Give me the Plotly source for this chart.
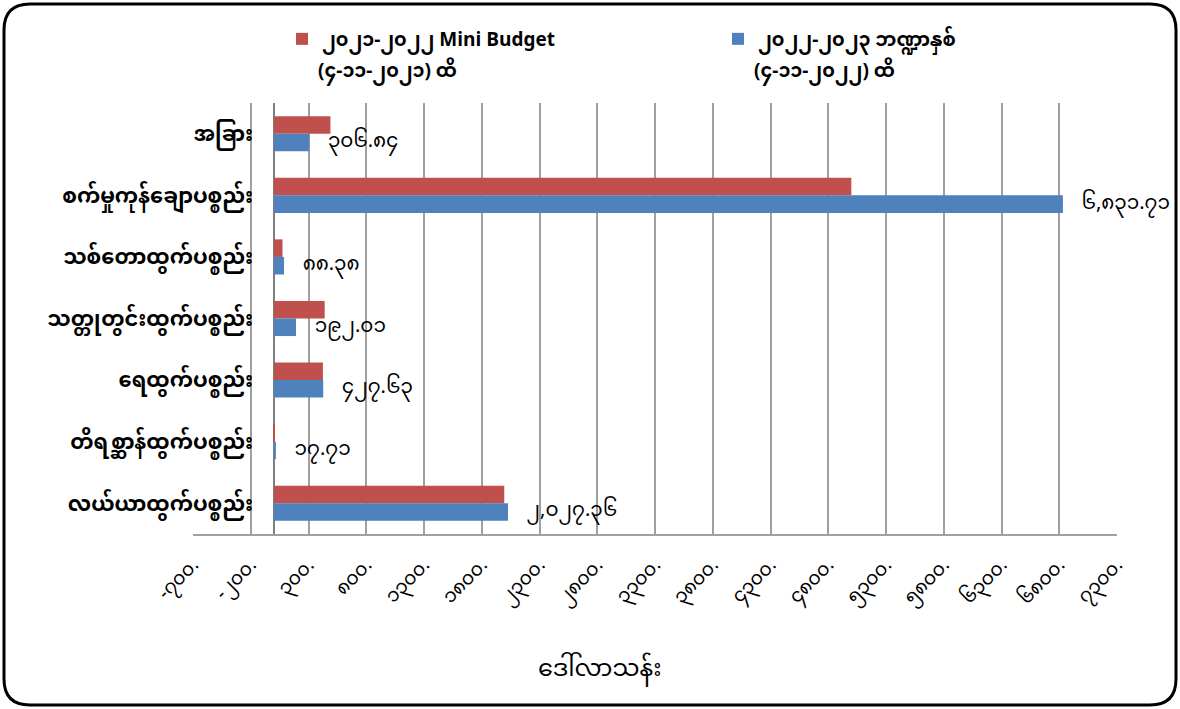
import plotly.graph_objects as go

categories = ["အခြား", "စက်မှုကုန်ချောပစ္စည်း", "သစ်တောထွက်ပစ္စည်း",
              "သတ္တုတွင်းထွက်ပစ္စည်း", "ရေထွက်ပစ္စည်း",
              "တိရစ္ဆာန်ထွက်ပစ္စည်း", "လယ်ယာထွက်ပစ္စည်း"]
mini_budget = [490, 5000, 75, 440, 425, 2, 1995]
fy_2022 = [306.84, 6831.71, 88.38, 192.01, 427.63, 17.71, 2027.36]
series_names = ["၂၀၂၁-၂၀၂၂ Mini Budget", "၂၀၂၂-၂၀၂၃ ဘဏ္ဍာနှစ်"]
series_dates = ["(၄-၁၁-၂၀၂၁) ထိ", "(၄-၁၁-၂၀၂၂) ထိ"]
tick_values = [-700, -200, 300, 800, 1300, 1800, 2300, 2800, 3300,
               3800, 4300, 4800, 5300, 5800, 6300, 6800, 7300]
axis_title = "ဒေါ်လာသန်း"

MY = str.maketrans("0123456789", "၀၁၂၃၄၅၆၇၈၉")
def my_num(s):
    return s.translate(MY)

tick_text = [my_num(f"{v}.") for v in tick_values]
blue_text = ["   " + my_num(f"{v:,.2f}") for v in fy_2022]

FONT = "Noto Sans Myanmar, Padauk, Myanmar Text, Noto Sans, sans-serif"
RED = "#C0504D"
BLUE = "#4F81BD"

fig = go.Figure()
fig.add_trace(go.Bar(y=categories, x=mini_budget, orientation="h", name=series_names[0],
                     marker=dict(color=RED, line=dict(width=0)), legend="legend"))
fig.add_trace(go.Bar(y=categories, x=fy_2022, orientation="h", name=series_names[1],
                     marker=dict(color=BLUE, line=dict(width=0)), legend="legend2",
                     text=blue_text, textposition="outside", cliponaxis=False,
                     constraintext="none",
                     textfont=dict(size=20, color="black", family=FONT)))

W, H = 1180, 709
L, R, T, B = 193, 63, 103, 175
pw, ph = W - L - R, H - T - B
def px(x): return (x - L) / pw
def py(y): return (H - B - y) / ph

# rounded border
x0, x1, y0, y1, rr = 4, 1176, 4, 705, 26
path = (f"M {px(x0+rr)},{py(y0)} L {px(x1-rr)},{py(y0)} Q {px(x1)},{py(y0)} {px(x1)},{py(y0+rr)} "
        f"L {px(x1)},{py(y1-rr)} Q {px(x1)},{py(y1)} {px(x1-rr)},{py(y1)} "
        f"L {px(x0+rr)},{py(y1)} Q {px(x0)},{py(y1)} {px(x0)},{py(y1-rr)} "
        f"L {px(x0)},{py(y0+rr)} Q {px(x0)},{py(y0)} {px(x0+rr)},{py(y0)} Z")

legend_font = dict(size=19, family=FONT, weight="bold")
leg_x = [282, 718]
annotations = [dict(text=axis_title, xref="paper", yref="paper", x=px(600), y=py(670),
                    xanchor="center", yanchor="middle", showarrow=False,
                    font=dict(size=24, family=FONT, color="black"))]
for lx, d in zip(leg_x, series_dates):
    annotations.append(dict(text=d, xref="paper", yref="paper", x=px(lx + 34), y=py(73),
                            xanchor="left", yanchor="middle", showarrow=False,
                            font=legend_font))

fig.update_layout(
    width=W, height=H,
    margin=dict(l=L, r=R, t=T, b=B, autoexpand=False),
    paper_bgcolor="white", plot_bgcolor="white",
    font=dict(family=FONT, color="black"),
    barmode="group", bargap=0.43, bargroupgap=0.0,
    showlegend=True,
    legend=dict(orientation="v", x=px(leg_x[0]), xanchor="left", y=py(20), yanchor="top",
                valign="middle", font=legend_font, itemclick=False, bgcolor="rgba(0,0,0,0)"),
    legend2=dict(orientation="v", x=px(leg_x[1]), xanchor="left", y=py(20), yanchor="top",
                 valign="middle", font=legend_font, itemclick=False, bgcolor="rgba(0,0,0,0)"),
    xaxis=dict(range=[-700, 7300], tickvals=tick_values, ticktext=tick_text,
               tickangle=-45, tickfont=dict(size=19, family=FONT), ticklabelstandoff=10,
               showgrid=True, gridcolor="#A0A0A0", gridwidth=1.5,
               zeroline=True, zerolinecolor="#7F7F7F", zerolinewidth=2,
               showline=True, linecolor="#A0A0A0", linewidth=2, ticks="",
               fixedrange=True),
    yaxis=dict(autorange="reversed", tickfont=dict(size=21, family=FONT, weight="bold"),
               anchor="free", position=px(275),
               showgrid=False, showline=False, ticks="", ticksuffix="    ", fixedrange=True),
    shapes=[dict(type="path", xref="paper", yref="paper", path=path,
                 line=dict(color="black", width=3), fillcolor="rgba(0,0,0,0)", layer="above")],
    annotations=annotations,
)

fig.write_html("out.html", config={"displayModeBar": False},
               post_script="document.body.style.margin='0';")
